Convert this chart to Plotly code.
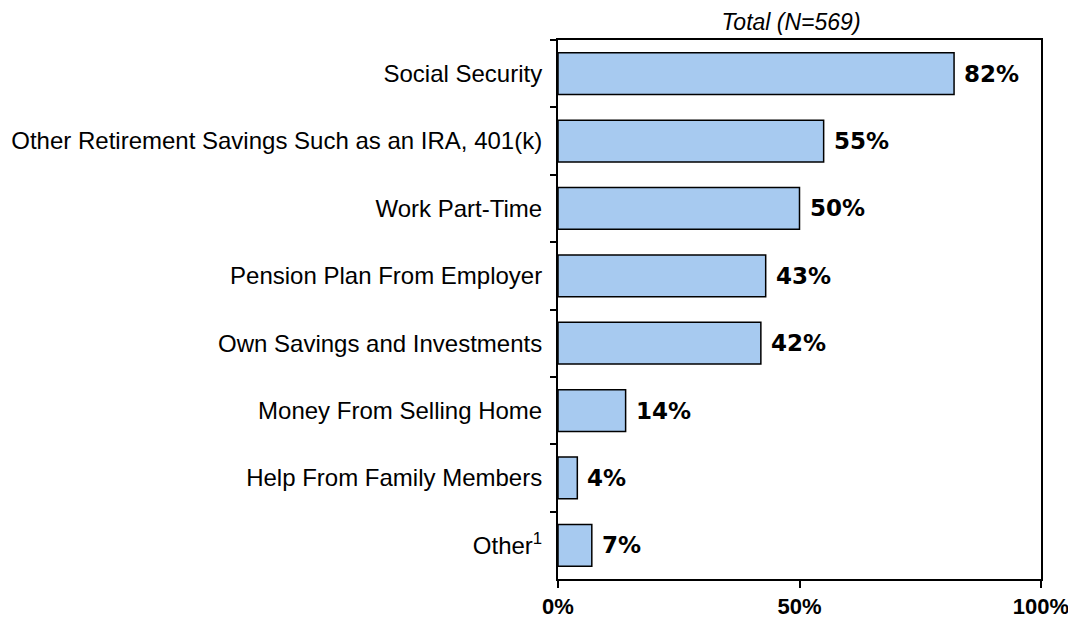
import plotly.graph_objects as go

categories = [
    "Social Security",
    "Other Retirement Savings Such as an IRA, 401(k)",
    "Work Part-Time",
    "Pension Plan From Employer",
    "Own Savings and Investments",
    "Money From Selling Home",
    "Help From Family Members",
    "Other<sup>1</sup>",
]
values = [82, 55, 50, 43, 42, 14, 4, 7]
value_labels = ["82%", "55%", "50%", "43%", "42%", "14%", "4%", "7%"]
x_ticks = [0, 50, 100]
x_tick_labels = ["0%", "50%", "100%"]
title_text = "Total (N=569)"

W, H = 1068, 609
L, R, T, B = 550, 35, 32, 38

fig = go.Figure()
fig.add_trace(go.Bar(
    y=categories,
    x=values,
    orientation="h",
    width=0.62,
    marker=dict(color="#A7CAF0", line=dict(color="black", width=1.5)),
    hoverinfo="skip",
))

for cat, v, lab in zip(categories, values, value_labels):
    fig.add_annotation(
        x=v, y=cat, text=lab, showarrow=False,
        xanchor="left", yanchor="middle", xshift=8,
        font=dict(family="DejaVu Sans", size=23, color="black", weight="bold"),
    )

fig.update_layout(
    width=W, height=H,
    margin=dict(l=L, r=R, t=T, b=B),
    plot_bgcolor="white", paper_bgcolor="white",
    showlegend=False,
    font=dict(family="Liberation Sans, Arial", color="black"),
    title=dict(
        text="<i>" + title_text + "</i>",
        x=783 / W, xanchor="center",
        y=1 - 14 / H, yanchor="middle",
        font=dict(family="Liberation Sans, Arial", size=23, color="black"),
    ),
)
fig.update_xaxes(
    range=[0, 100], tickvals=x_ticks, ticktext=x_tick_labels,
    ticks="outside", ticklen=7, tickwidth=1.5, tickcolor="black",
    showline=True, linecolor="black", linewidth=2, mirror=True,
    showgrid=False, zeroline=False, automargin=False,
    tickfont=dict(family="Liberation Sans, Arial", size=22, color="black", weight="bold"),
    ticklabelstandoff=0,
    fixedrange=True,
)
fig.update_yaxes(
    categoryorder="array", categoryarray=categories, autorange="reversed",
    tickson="boundaries", ticks="outside", ticklen=6, tickwidth=1.5, tickcolor="black",
    showline=True, linecolor="black", linewidth=2, mirror=True,
    showgrid=False, zeroline=False, automargin=False,
    tickfont=dict(family="Liberation Sans, Arial", size=24, color="black"),
    ticklabelstandoff=9,
    fixedrange=True,
)

fig.write_html("out.html")
